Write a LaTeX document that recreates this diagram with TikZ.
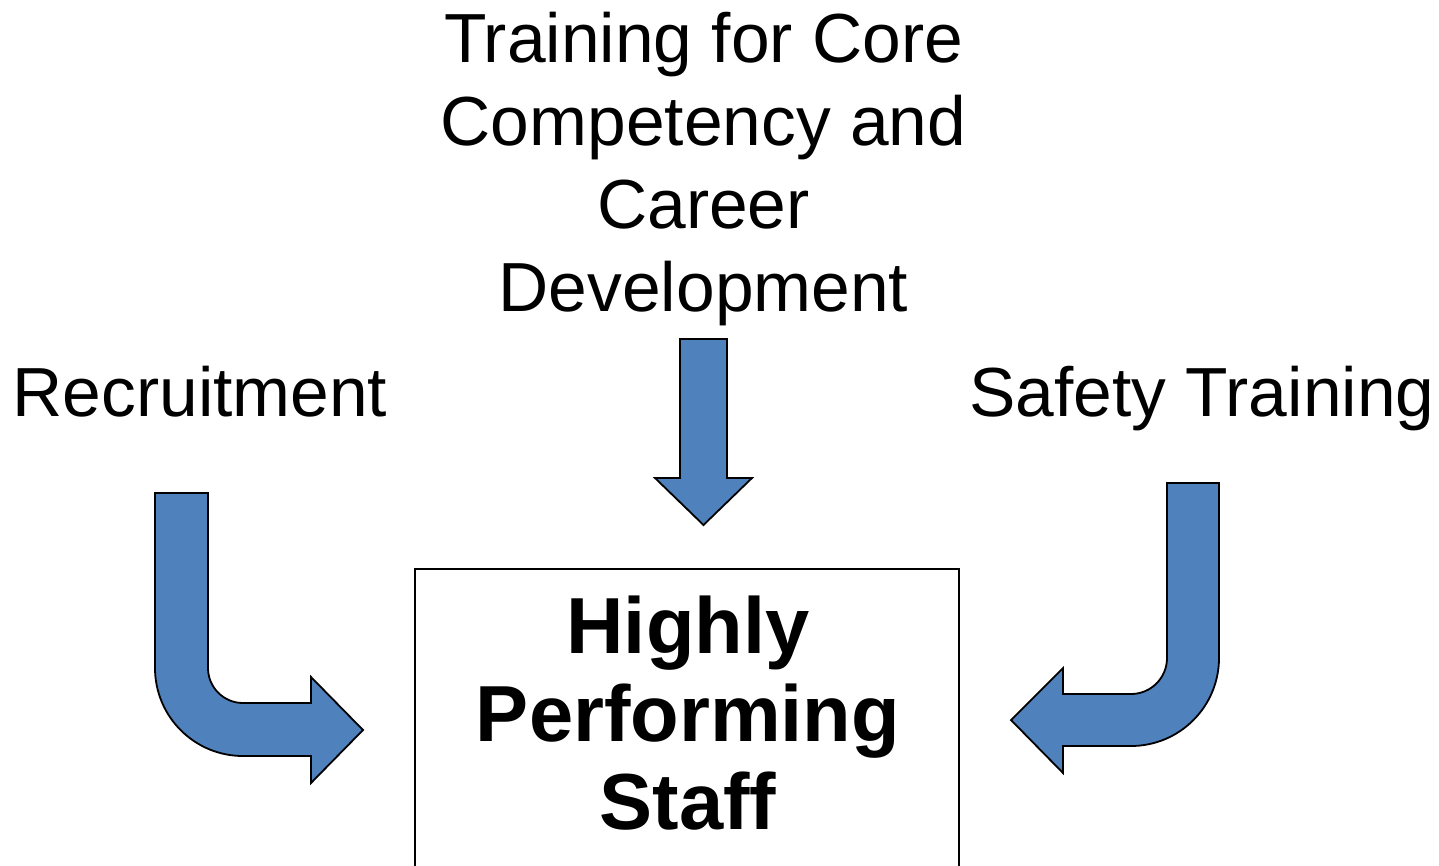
\documentclass[tikz,border=0pt]{standalone}
\usepackage{fontspec}
\setmainfont{Liberation Sans}
\definecolor{arrowblue}{HTML}{4F81BD}
\begin{document}
\begin{tikzpicture}[x=1pt,y=1pt,
  blockarrow/.style={fill=arrowblue,draw=black,line width=1.8pt,line join=miter},
  label70/.style={inner sep=0pt,font=\fontsize{69.5}{83}\selectfont,align=center},
  boldtext/.style={inner sep=0pt,font=\fontsize{79.5}{88}\selectfont\bfseries,align=center}]
\useasboundingbox (0,0) rectangle (1439,-865);
% labels
\node[label70,anchor=base] (train) at (703.5,-311) {Training for Core\\Competency and\\Career\\Development};
\node[label70,anchor=base] (recruit) at (200,-416) {Recruitment};
\node[label70,anchor=base] (safety) at (1202,-416) {Safety Training};
% box
\node[draw=black,line width=1.5pt,minimum width=544pt,minimum height=330pt,anchor=north,inner sep=0pt] (box) at (687,-568) {};
\node[boldtext,anchor=base] (staff) at (688,-829) {Highly\\Performing\\Staff};
% down arrow
\draw[blockarrow] (680,-339) -- (727,-339) -- (727,-478) -- (752,-478) -- (703.5,-525) -- (655,-478) -- (680,-478) -- cycle;
% left bent arrow
\draw[blockarrow] (155,-493) -- (208,-493) -- (208,-668) arc[start angle=180,end angle=270,radius=35]
  -- (311,-703) -- (311,-677) -- (363,-730) -- (311,-783) -- (311,-756) -- (243,-756)
  arc[start angle=270,end angle=180,radius=88] -- cycle;
% right bent arrow
\draw[blockarrow] (1219,-483) -- (1167,-483) -- (1167,-658) arc[start angle=0,end angle=-90,radius=36]
  -- (1063,-694) -- (1063,-668) -- (1011,-720) -- (1063,-773) -- (1063,-746) -- (1131,-746)
  arc[start angle=-90,end angle=0,radius=88] -- cycle;
\end{tikzpicture}
\end{document}
